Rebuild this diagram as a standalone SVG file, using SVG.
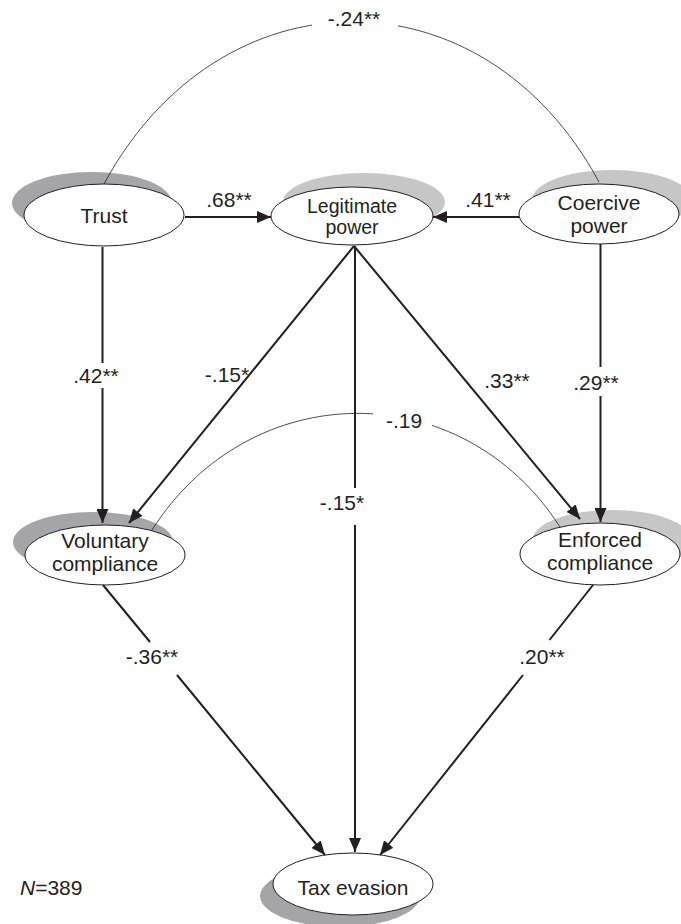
<svg xmlns="http://www.w3.org/2000/svg" width="681" height="924" viewBox="0 0 681 924">
<style>
text{font-family:"Liberation Sans",Arial,sans-serif;fill:#231f20;font-size:21px;text-anchor:middle}
.node{fill:#fff;stroke:#231f20;stroke-width:1}
.sd{fill:#a5a5a7}
.sl{fill:#c6c6c6}
.arr{stroke:#231f20;stroke-width:2;fill:none;marker-end:url(#ah)}
.ln{stroke:#231f20;stroke-width:2;fill:none}
.cor{stroke:#231f20;stroke-width:0.8;fill:none}
.lbl{font-size:21px}
</style>
<defs>
<marker id="ah" markerUnits="userSpaceOnUse" markerWidth="16" markerHeight="12" refX="14" refY="6" orient="auto">
<path d="M0,0 L14,6 L0,12 Z" fill="#231f20"/>
</marker>
<mask id="m24">
<rect x="0" y="0" width="681" height="924" fill="#fff"/>
<rect x="312" y="0" width="86" height="40" fill="#000"/>
</mask>
<mask id="m19">
<rect x="0" y="0" width="681" height="924" fill="#fff"/>
<rect x="373" y="400" width="59" height="40" fill="#000"/>
</mask>
</defs>

<g id="shadows-nodes">
<g id="trust">
<ellipse class="sd" cx="92" cy="203" rx="80" ry="31"/>
<ellipse class="node" cx="104" cy="215" rx="80" ry="31"/>
<text x="104" y="223">Trust</text>
</g>
<g id="legitimate-power">
<ellipse class="sl" cx="364" cy="202" rx="81" ry="29"/>
<ellipse class="node" cx="352" cy="216" rx="81" ry="29"/>
<text x="352" y="213" style="font-size:19.5px">Legitimate</text>
<text x="352" y="234" style="font-size:19.5px">power</text>
</g>
<g id="coercive-power">
<ellipse class="sl" cx="612" cy="200" rx="80" ry="30"/>
<ellipse class="node" cx="599" cy="214" rx="80" ry="30"/>
<text x="599" y="210">Coercive</text>
<text x="599" y="233">power</text>
</g>
<g id="voluntary-compliance">
<ellipse class="sd" cx="93" cy="542" rx="80" ry="30"/>
<ellipse class="node" cx="105" cy="555" rx="80" ry="30"/>
<text x="105" y="548">Voluntary</text>
<text x="105" y="571">compliance</text>
</g>
<g id="enforced-compliance">
<ellipse class="sl" cx="612" cy="541" rx="80" ry="31"/>
<ellipse class="node" cx="600" cy="554" rx="80" ry="31"/>
<text x="600" y="547">Enforced</text>
<text x="600" y="570">compliance</text>
</g>
<g id="tax-evasion">
<ellipse class="sd" cx="340" cy="896" rx="80" ry="31"/>
<ellipse class="node" cx="353" cy="884" rx="80" ry="31"/>
<text x="353" y="895">Tax evasion</text>
</g>
</g>

<g id="connectors">
<path class="cor" mask="url(#m24)" d="M104,184 C220,-31 483,-33 599,182"/>
<path class="cor" mask="url(#m19)" d="M152,530 C250,376 462,374 560,527"/>
<line class="arr" x1="185" y1="217" x2="271" y2="217"/>
<line class="arr" x1="519" y1="217" x2="433" y2="217"/>
<line class="ln" x1="102.5" y1="247" x2="102.5" y2="363"/>
<line class="arr" x1="102.5" y1="388" x2="102.5" y2="523"/>
<line class="ln" x1="600.5" y1="244" x2="600.5" y2="367"/>
<line class="arr" x1="600.5" y1="396" x2="600.5" y2="522"/>
<line class="arr" x1="354" y1="246" x2="129" y2="523"/>
<line class="arr" x1="354" y1="246" x2="580" y2="519"/>
<line class="ln" x1="355" y1="246" x2="355" y2="488"/>
<line class="arr" x1="355" y1="525" x2="355" y2="852"/>
<line class="ln" x1="103" y1="585" x2="150" y2="642"/>
<line class="arr" x1="177" y1="675" x2="325" y2="855"/>
<line class="ln" x1="593" y1="585" x2="549.5" y2="640"/>
<line class="arr" x1="523" y1="675" x2="380" y2="855"/>
</g>

<g id="labels">
<text x="354" y="26">-.24**</text>
<text x="229" y="207">.68**</text>
<text x="488" y="207">.41**</text>
<text x="96" y="383">.42**</text>
<text x="227" y="382">-.15*</text>
<text x="507" y="388">.33**</text>
<text x="596" y="390">.29**</text>
<text x="404" y="428">-.19</text>
<text x="342" y="510">-.15*</text>
<text x="152" y="664">-.36**</text>
<text x="542" y="664">.20**</text>
<text x="20" y="895" style="text-anchor:start"><tspan font-style="italic">N</tspan>=389</text>
</g>
</svg>
